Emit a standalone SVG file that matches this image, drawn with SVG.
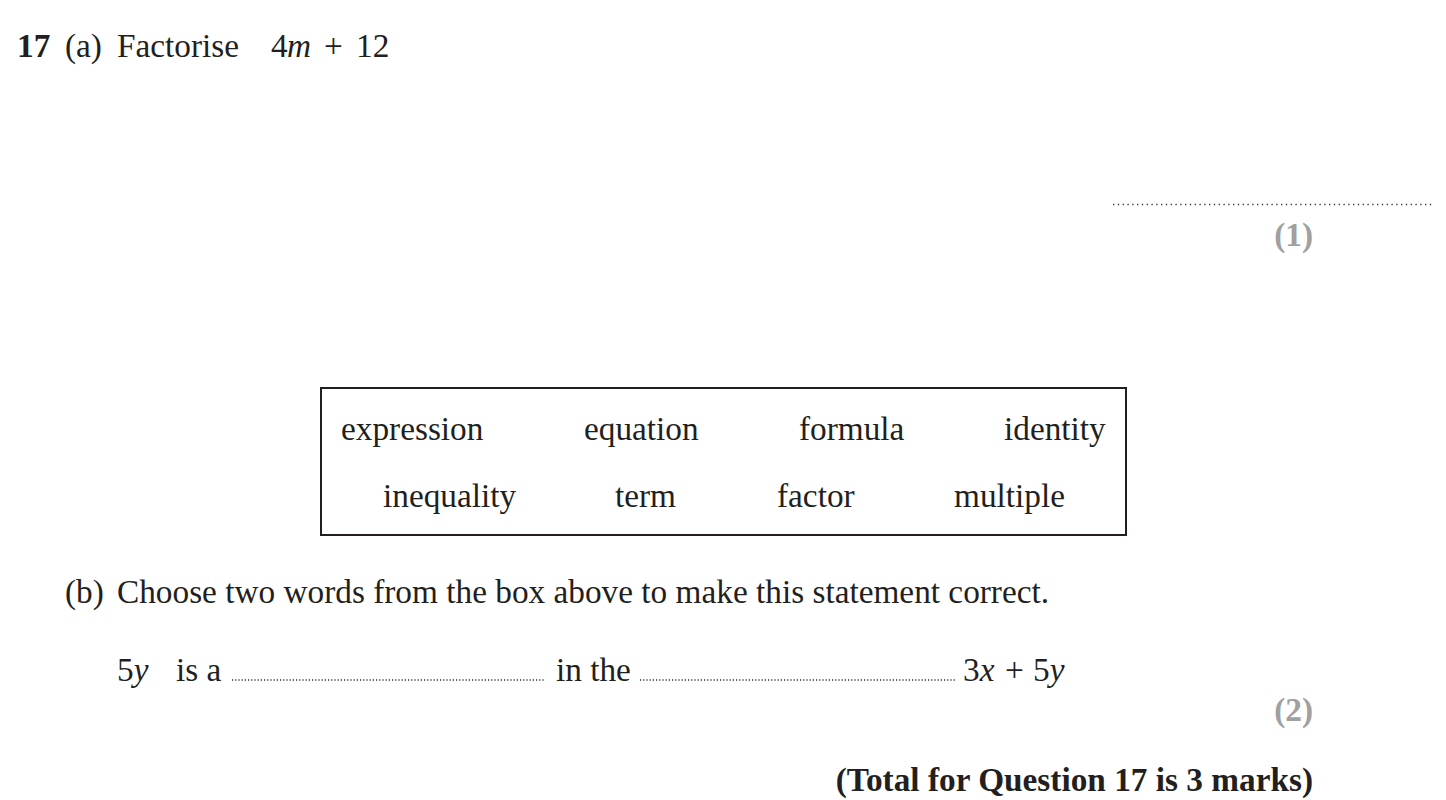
<svg xmlns="http://www.w3.org/2000/svg" width="1446" height="800" viewBox="0 0 1446 800">
<style>
text{font-family:"Liberation Serif","Times New Roman",serif;font-size:33.3px;fill:#231f20}
.b{font-weight:bold}
.i{font-style:italic}
.mk{font-weight:bold;fill:#a0a0a0;text-anchor:end}
.dot1{stroke:#444;stroke-width:1.4;stroke-dasharray:1.4 3.4;fill:none}
.dot2{stroke:#333;stroke-width:1.3;stroke-dasharray:1.2 2;fill:none}
</style>
<rect width="1446" height="800" fill="#fff"/>
<g id="part-a">
<text class="b" x="17" y="57">17</text>
<text x="65" y="57">(a)</text>
<text x="117" y="57">Factorise</text>
<text x="271" y="57">4</text>
<text class="i" x="287" y="57">m</text>
<text x="324" y="57">+</text>
<text x="356" y="57">12</text>
<line class="dot1" x1="1113" y1="204.5" x2="1432" y2="204.5"/>
<text class="mk" x="1313" y="246">(1)</text>
</g>
<g id="word-box">
<rect x="321" y="388" width="805" height="147" fill="none" stroke="#231f20" stroke-width="2"/>
<text x="341" y="440">expression</text>
<text x="584" y="440">equation</text>
<text x="799" y="440">formula</text>
<text x="1004" y="440">identity</text>
<text x="383" y="507">inequality</text>
<text x="615" y="507">term</text>
<text x="777" y="507">factor</text>
<text x="954" y="507">multiple</text>
</g>
<g id="part-b">
<text x="65" y="603">(b)</text>
<text x="117" y="603">Choose two words from the box above to make this statement correct.</text>
<text x="117" y="681">5<tspan class="i">y</tspan></text>
<text x="176" y="681">is a</text>
<line class="dot2" x1="232" y1="680" x2="545" y2="680"/>
<text x="556" y="681">in the</text>
<line class="dot2" x1="640" y1="680" x2="955" y2="680"/>
<text x="963" y="681">3<tspan class="i">x</tspan></text>
<text x="1005" y="681">+</text>
<text x="1033" y="681">5<tspan class="i">y</tspan></text>
<text class="mk" x="1313" y="721">(2)</text>
</g>
<g id="total">
<text class="b" x="1313" y="791" text-anchor="end">(Total for Question 17 is 3 marks)</text>
</g>
</svg>
